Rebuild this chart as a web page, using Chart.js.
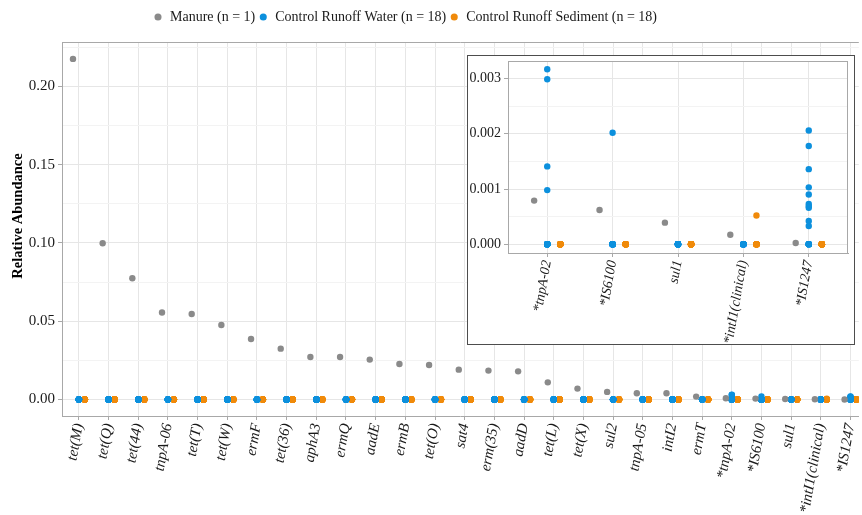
<!DOCTYPE html>
<html>
<head>
<meta charset="utf-8">
<script src="https://cdn.jsdelivr.net/npm/chart.js@4/dist/chart.umd.min.js"></script>
<style>
  html, body { margin: 0; padding: 0; background: #fff; overflow: hidden; }
  #wrap { position: relative; width: 862px; height: 515px; background: #fff; }
  #main { position: absolute; left: 0; top: 0; }
  #insetBox { position: absolute; left: 467px; top: 55px; width: 388px; height: 290px;
              box-sizing: border-box; border: 1px solid #4d4d4d; background: #fff; }
  #inset { position: absolute; left: 0; top: 0; }
</style>
</head>
<body>
<div id="wrap">
  <canvas id="main" width="862" height="515"></canvas>
  <div id="insetBox"><canvas id="inset" width="386" height="288"></canvas></div>
</div>
<script>
// Genes, ordered by relative abundance in manure
const genes = ['tet(M)', 'tet(Q)', 'tet(44)', 'tnpA-06', 'tet(T)', 'tet(W)', 'ermF', 'tet(36)',
  'aphA3', 'ermQ', 'aadE', 'ermB', 'tet(O)', 'sat4', 'erm(35)', 'aadD', 'tet(L)', 'tet(X)',
  'sul2', 'tnpA-05', 'intI2', 'ermT', '*tnpA-02', '*IS6100', 'sul1', '*intI1(clinical)', '*IS1247'];

// Manure (single sample)
const manure = [0.2175, 0.0998, 0.0775, 0.0556, 0.0546, 0.0476, 0.0387, 0.0325,
  0.0272, 0.0272, 0.0255, 0.0227, 0.0221, 0.0191, 0.0185, 0.0180, 0.0110, 0.0070,
  0.0049, 0.0040, 0.0040, 0.0019, 0.00079, 0.00062, 0.00039, 0.00017, 0.00002];

// Runoff samples with detections; every other sample is 0
const samplesPerGroup = 18;
const waterTnpA02 = [0.00317, 0.00299, 0.00141, 0.00098];
const waterIS6100 = [0.00202];
const waterIS1247 = [0.00206, 0.00178, 0.00136, 0.00103, 0.00090, 0.00073, 0.00069, 0.00066, 0.00042, 0.00033];
const sedimentIntI1 = [0.00052];

const waterDetected = { '*tnpA-02': waterTnpA02, '*IS6100': waterIS6100, '*IS1247': waterIS1247 };
const sedimentDetected = { '*intI1(clinical)': sedimentIntI1 };

// Genes shown enlarged in the inset
const insetGenes = ['*tnpA-02', '*IS6100', 'sul1', '*intI1(clinical)', '*IS1247'];

// Axis tick labels
const mainYTicks = [0, 0.05, 0.10, 0.15, 0.20];
const mainYLabels = ['0.00', '0.05', '0.10', '0.15', '0.20'];
const insetYTicks = [0, 0.001, 0.002, 0.003];
const insetYLabels = ['0.000', '0.001', '0.002', '0.003'];

const seriesNames = ['Manure (n = 1)', 'Control Runoff Water (n = 18)', 'Control Runoff Sediment (n = 18)'];
const COLORS = ['#8a8a8a', '#0c90dd', '#f08a0a'];
const FONT = "'Liberation Serif', 'Times New Roman', serif";
const GRID_MAJOR = '#e6e6e6';
const GRID_MINOR = '#f3f3f3';
const PANEL_BORDER = '#a8a8a8';
const DODGE = 0.2;

function groupSamples(detected) {
  const out = (detected || []).slice();
  while (out.length < samplesPerGroup) out.push(0);
  return out;
}

function buildDatasets(list) {
  const pt = (color) => ({
    backgroundColor: color, borderColor: color, borderWidth: 0,
    pointBackgroundColor: color, pointBorderColor: color, pointBorderWidth: 0,
    pointRadius: 3.2, pointHoverRadius: 3.2, pointHoverBorderWidth: 0
  });
  return [
    Object.assign({ label: seriesNames[0],
      data: list.map((g, i) => ({ x: i - DODGE, y: manure[genes.indexOf(g)] })) }, pt(COLORS[0])),
    Object.assign({ label: seriesNames[1],
      data: list.flatMap((g, i) => groupSamples(waterDetected[g]).map(v => ({ x: i, y: v }))) }, pt(COLORS[1])),
    Object.assign({ label: seriesNames[2],
      data: list.flatMap((g, i) => groupSamples(sedimentDetected[g]).map(v => ({ x: i + DODGE, y: v }))) }, pt(COLORS[2]))
  ];
}

// major ticks plus a minor tick half-way between neighbours
function withMinor(majors, max) {
  const step = majors[1] - majors[0];
  const out = [];
  majors.forEach(v => { out.push({ value: v, major: true }); if (v + step / 2 <= max) out.push({ value: v + step / 2, major: false }); });
  return out;
}

function yScale(majors, labels, min, max, width, fontSize) {
  const ticksList = withMinor(majors, max);
  return {
    type: 'linear', min, max,
    afterBuildTicks: (axis) => { axis.ticks = ticksList.map(t => ({ value: t.value })); },
    afterFit: (s) => { s.width = width; s.paddingTop = 0; s.paddingBottom = 0; },
    grid: {
      color: (c) => (ticksList[c.index] && ticksList[c.index].major ? GRID_MAJOR : GRID_MINOR),
      tickColor: (c) => (ticksList[c.index] && ticksList[c.index].major ? PANEL_BORDER : 'rgba(0,0,0,0)'),
      tickLength: 4, lineWidth: 1
    },
    border: { display: true, color: PANEL_BORDER, width: 1 },
    ticks: {
      padding: 3, color: '#1a1a1a', font: { family: FONT, size: fontSize },
      callback: (v, i) => (ticksList[i] && ticksList[i].major ? labels[majors.indexOf(ticksList[i].value)] : '')
    }
  };
}

function xScale(list, min, max, height, fontSize) {
  return {
    type: 'linear', min, max,
    afterBuildTicks: (axis) => { axis.ticks = list.map((_, i) => ({ value: i })); },
    afterFit: (s) => { s.height = height; s.paddingLeft = 0; s.paddingRight = 0; },
    grid: { color: GRID_MAJOR, tickColor: PANEL_BORDER, tickLength: 4, lineWidth: 1 },
    border: { display: true, color: PANEL_BORDER, width: 1 },
    ticks: {
      autoSkip: false, minRotation: 80, maxRotation: 80, padding: 2,
      color: '#1a1a1a', font: { family: FONT, size: fontSize, style: 'italic' },
      callback: (v) => list[v]
    }
  };
}

// closes the panel frame on the sides without an axis
const panelFrame = {
  id: 'panelFrame',
  afterDatasetsDraw(chart, args, opts) {
    const { ctx, chartArea: a } = chart;
    ctx.save();
    ctx.strokeStyle = PANEL_BORDER;
    ctx.lineWidth = 1;
    ctx.beginPath();
    ctx.moveTo(a.left, Math.round(a.top) + 0.5);
    ctx.lineTo(a.right, Math.round(a.top) + 0.5);
    if (opts.right) {
      ctx.moveTo(Math.round(a.right) - 0.5, a.top);
      ctx.lineTo(Math.round(a.right) - 0.5, a.bottom);
    }
    ctx.stroke();
    ctx.restore();
  }
};

// y-axis title, drawn bold and rotated
const yTitle = {
  id: 'yTitle',
  afterDraw(chart, args, opts) {
    const { ctx } = chart;
    ctx.save();
    ctx.translate(opts.x, opts.y);
    ctx.rotate(-Math.PI / 2);
    ctx.font = 'bold 14.5px ' + FONT;
    ctx.fillStyle = '#000';
    ctx.textAlign = 'center';
    ctx.textBaseline = 'middle';
    ctx.fillText(opts.text, 0, 0);
    ctx.restore();
  }
};

// legend: fixed band height and left start
const legendBand = {
  id: 'legendBand',
  beforeInit(chart) {
    const fit = chart.legend.fit;
    chart.legend.fit = function () { fit.call(this); this.height = 35; };
  },
  afterLayout(chart) {
    chart.legend.left = 150;
  }
};

new Chart(document.getElementById('main'), {
  type: 'scatter',
  data: { datasets: buildDatasets(genes) },
  options: {
    responsive: false, animation: false, devicePixelRatio: 1, events: [],
    layout: { padding: { top: 7, left: 0, right: 0, bottom: 0 } },
    scales: {
      x: xScale(genes, -0.57, 26.28, 99, 15),
      y: yScale(mainYTicks, mainYLabels, -0.0105, 0.2283, 62, 15)
    },
    plugins: {
      legend: {
        display: true, position: 'top', align: 'start',
        labels: { usePointStyle: true, pointStyle: 'circle', boxWidth: 10, boxHeight: 5, padding: 3,
                  color: '#1a1a1a', font: { family: FONT, size: 14 } }
      },
      tooltip: { enabled: false },
      panelFrame: { right: false },
      yTitle: { text: 'Relative Abundance', x: 18, y: 216 }
    }
  },
  plugins: [panelFrame, yTitle, legendBand]
});

new Chart(document.getElementById('inset'), {
  type: 'scatter',
  data: { datasets: buildDatasets(insetGenes) },
  options: {
    responsive: false, animation: false, devicePixelRatio: 1, events: [],
    layout: { padding: { top: 5, left: 0, right: 6, bottom: 0 } },
    scales: {
      x: xScale(insetGenes, -0.6, 4.6, 91, 14),
      y: yScale(insetYTicks, insetYLabels, -0.00016, 0.00332, 40, 14)
    },
    plugins: { legend: { display: false }, tooltip: { enabled: false }, panelFrame: { right: true } }
  },
  plugins: [panelFrame]
});
</script>
</body>
</html>
